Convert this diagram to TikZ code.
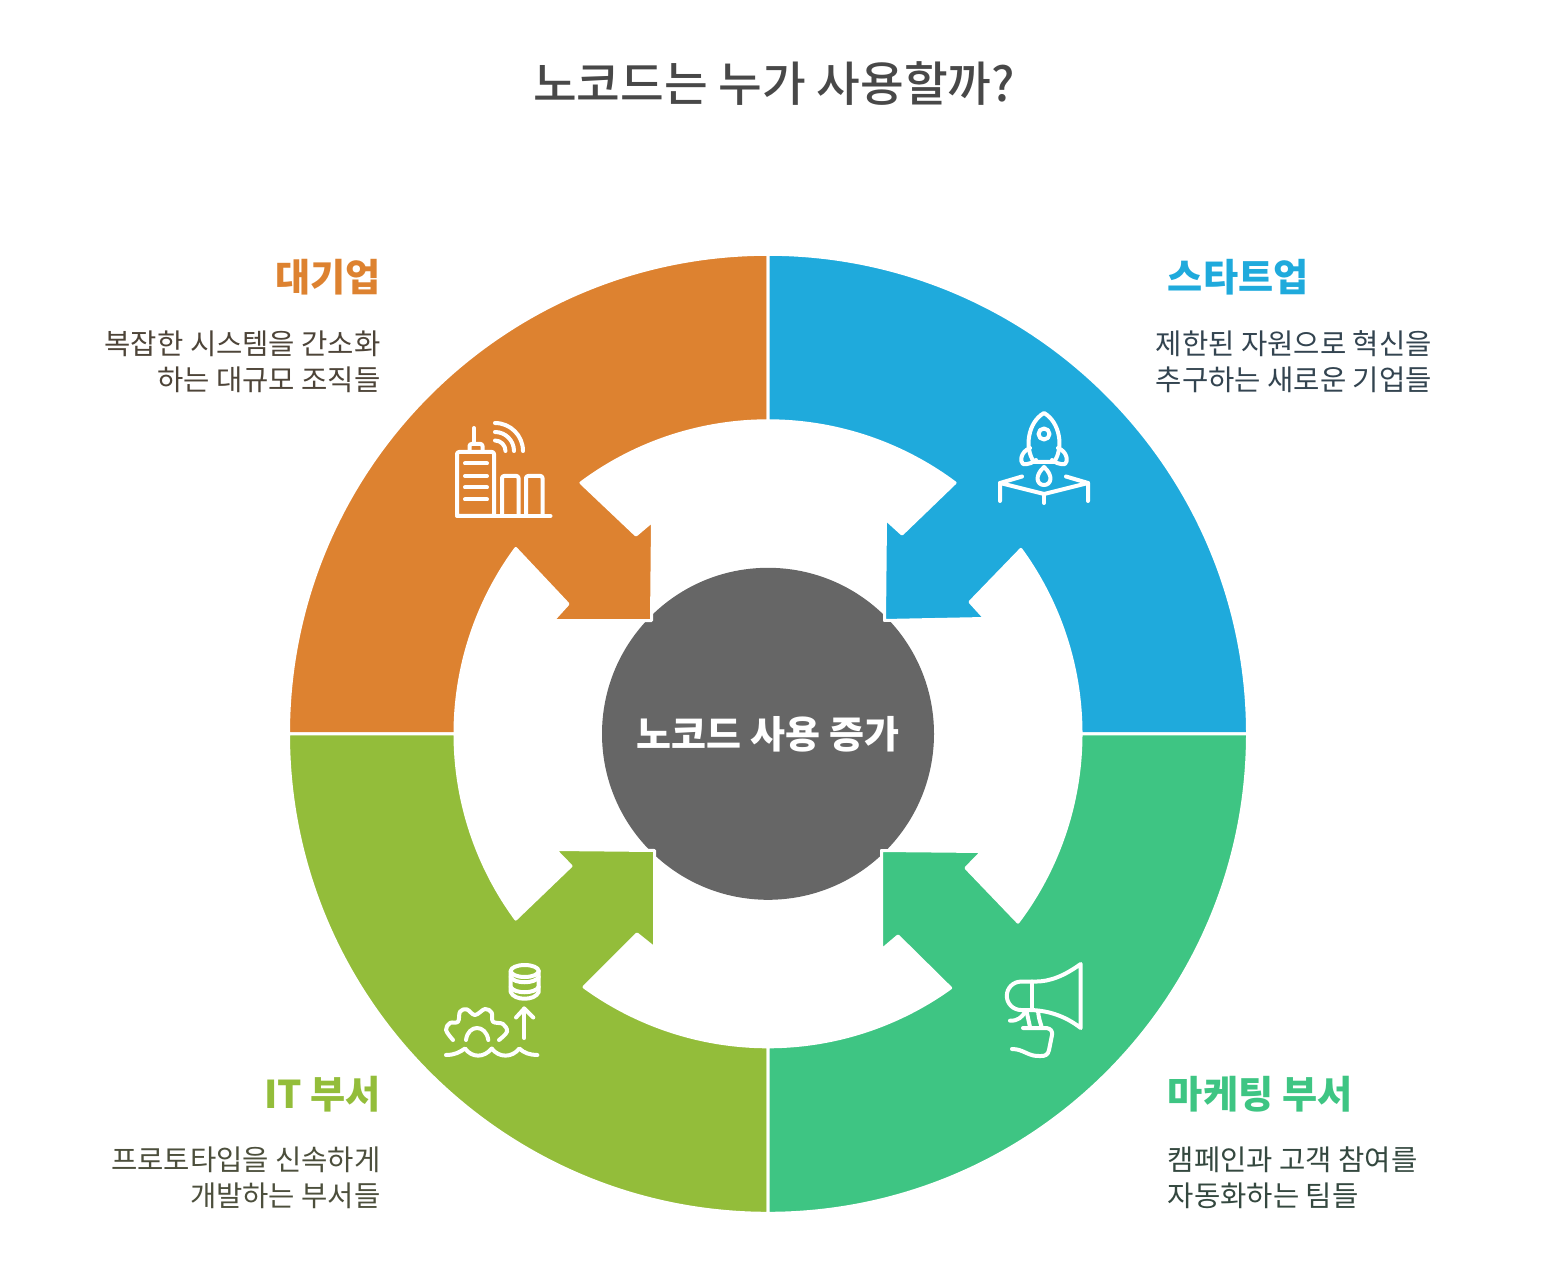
\documentclass[tikz,border=0pt]{standalone}
\usepackage{fontspec}
\setmainfont{Noto Sans CJK KR}
\newfontfamily\krmedium{Noto Sans CJK KR Medium}
\usetikzlibrary{calc}

\definecolor{orangeseg}{HTML}{DD8230}
\definecolor{blueseg}{HTML}{1FAADC}
\definecolor{limeseg}{HTML}{93BD3A}
\definecolor{greenseg}{HTML}{3EC583}
\definecolor{hubgray}{HTML}{666666}
\definecolor{titlegray}{HTML}{484848}
\definecolor{orangetxt}{HTML}{4D4438}
\definecolor{bluetxt}{HTML}{334450}
\definecolor{limetxt}{HTML}{4C4F3C}
\definecolor{greentxt}{HTML}{34483F}

\tikzset{
  segment/.style={draw=white, line width=1.5pt, line join=round},
  icon/.style={draw=white, line width=2pt, line cap=round, line join=round},
  heading/.style={font=\fontsize{19.1}{23}\selectfont\bfseries, inner sep=0pt},
  blurb/.style={font=\fontsize{14.3}{18}\selectfont, inner sep=0pt, align=#1},
}

\begin{document}
\begin{tikzpicture}[x=0.5pt, y=-0.5pt]
  \useasboundingbox (0,0) rectangle (1552,1288);
  \coordinate (hub) at (768,733.8);

  % Title
  \node [font=\fontsize{23.75}{28}\selectfont\krmedium, text=titlegray, inner sep=0pt] (title) at (774,84) {노코드는 누가 사용할까?};

  % Hub
  \node [circle, fill=hubgray, minimum size=166pt, inner sep=0pt, text=white,
         font=\fontsize{19}{23}\selectfont\bfseries] (hubnode) at (hub) {노코드 사용 증가};

  % Orange arrow
  \fill [orangeseg, segment] ($(hub)+(180:479.5)$) arc[start angle=180, end angle=270, radius=479.5]
    -- ($(hub)+(270:313)$) arc[start angle=270, end angle=233.3, radius=313]
    -- (636,535) -- (652.5,521) -- (651.5,620.5) -- (553,620.5) -- (568,604) -- ($(hub)+(216.3:313)$)
    arc[start angle=216.3, end angle=180, radius=313] -- cycle;

  % Blue arrow
  \fill [blueseg, segment] ($(hub)+(270:479.5)$) arc[start angle=270, end angle=360, radius=479.5]
    -- ($(hub)+(0:313)$) arc[start angle=360, end angle=323.9, radius=313]
    -- (970,602) -- (985,618.5) -- (884.5,620.5) -- (885.5,519) -- (902,534) -- ($(hub)+(306.7:313)$)
    arc[start angle=306.7, end angle=270, radius=313] -- cycle;

  % Lime arrow
  \fill [limeseg, segment] ($(hub)+(180:479.5)$) arc[start angle=180, end angle=90, radius=479.5]
    -- ($(hub)+(90:313)$) arc[start angle=90, end angle=126, radius=313]
    -- (637,934) -- (654.5,948) -- (654.5,850.5) -- (555,849.5) -- (571,866) -- ($(hub)+(143.7:313)$)
    arc[start angle=143.7, end angle=180, radius=313] -- cycle;

  % Green arrow
  \fill [greenseg, segment] ($(hub)+(0:479.5)$) arc[start angle=0, end angle=90, radius=479.5]
    -- ($(hub)+(90:313)$) arc[start angle=90, end angle=54.3, radius=313]
    -- (898,936) -- (881.5,950) -- (881.5,850.5) -- (982,851.5) -- (966,868) -- ($(hub)+(37:313)$)
    arc[start angle=37, end angle=0, radius=313] -- cycle;

  % Headings and text
  \node [heading, text=orangeseg, anchor=east] (orangehead) at (381.5,277) {대기업};
  \node [blurb=right, text=orangetxt, anchor=north east] (orangetext) at (381,330) {복잡한 시스템을 간소화\\하는 대규모 조직들};
  \node [heading, text=blueseg, anchor=west] (bluehead) at (1167.5,277) {스타트업};
  \node [blurb=left, text=bluetxt, anchor=north west] (bluetext) at (1155.5,330) {제한된 자원으로 혁신을\\추구하는 새로운 기업들};
  \node [heading, text=limeseg, anchor=east] (limehead) at (381.5,1094) {IT 부서};
  \node [blurb=right, text=limetxt, anchor=north east] (limetext) at (381,1146) {프로토타입을 신속하게\\개발하는 부서들};
  \node [heading, text=greenseg, anchor=west] (greenhead) at (1167.5,1094) {마케팅 부서};
  \node [blurb=left, text=greentxt, anchor=north west] (greentext) at (1167.5,1146) {캠페인과 고객 참여를\\자동화하는 팀들};

  % Building icon
  \draw [icon, rounded corners=1pt] (457,516) rectangle (494,452);
  \draw [icon, rounded corners=1pt] (469.5,452) -- (469.5,444) -- (482.5,444) -- (482.5,452);
  \draw [icon] (474,444) -- (474,428);
  \foreach \y in {463.5,476,487.5,499.5} \draw [icon] (465,\y) -- (487,\y);
  \draw [icon] (457,516) -- (550.5,516);
  \draw [icon, rounded corners=1pt] (502,516) -- (502,476) -- (518.5,476) -- (518.5,516);
  \draw [icon, rounded corners=1pt] (526,516) -- (526,476) -- (542.5,476) -- (542.5,516);
  \foreach \r in {10.5,19,28} \draw [icon] (495,451) ++(-90:\r) arc[start angle=-90, end angle=0, radius=\r];

  % Rocket icon
  \draw [icon] (1044,413) .. controls (1028,422) and (1024,448) .. (1034,462)
    -- (1054,462) .. controls (1064,448) and (1060,422) .. (1044,413) -- cycle;
  \draw [icon] (1044,434) circle (5.5);
  \draw [icon] (1030,448) .. controls (1020,452) and (1020,462) .. (1023,464) .. controls (1028,465) and (1034,462) .. (1036,460);
  \draw [icon] (1058,448) .. controls (1068,452) and (1068,462) .. (1065,464) .. controls (1060,465) and (1054,462) .. (1052,460);
  \draw [icon] (1044,467) .. controls (1034,476) and (1037,485) .. (1044,485) .. controls (1051,485) and (1054,476) .. (1044,467);
  \draw [icon] (1000,501) -- (1000,483) -- (1044,494) -- (1088,483) -- (1088,501);
  \draw [icon] (1000,483) -- (1022,476.5);
  \draw [icon] (1088,483) -- (1066,476.5);
  \draw [icon] (1044,494) -- (1044,503);

  % Database and gear icon
  \draw [icon] (524.7,971) ellipse (14 and 6);
  \draw [icon] (510.7,971) -- (510.7,992) .. controls (514,1001) and (535,1001) .. (538.7,992) -- (538.7,971);
  \draw [icon] (510.7,977) .. controls (514,984) and (535,984) .. (538.7,977);
  \draw [icon] (510.7,987) .. controls (514,994) and (535,994) .. (538.7,987);
  \draw [icon] (524.3,1038) -- (524.3,1008.5);
  \draw [icon] (516,1017.5) -- (524.3,1008.5) -- (533.3,1017.5);
  \draw [icon] plot [smooth, tension=.6] coordinates {(453,1040) (446,1030) (450,1023) (458,1021.7) (460,1011.7)
    (466.7,1009.3) (475,1015) (485,1009) (491.7,1012.7) (493,1021.7) (503,1024) (507,1031.7) (499,1040)};
  \draw [icon] (466,1040) .. controls (468,1024) and (486,1024) .. (488.3,1040);
  \draw [icon] (446,1055) .. controls (455,1055) and (460,1052) .. (465,1048.5)
    .. controls (472,1058) and (484,1058) .. (491.7,1048.5)
    .. controls (499,1058) and (512,1058) .. (519.3,1048.5)
    .. controls (524,1053) and (530,1055) .. (537.3,1055);

  % Megaphone icon
  \draw [icon] (1080.7,964) -- (1080.7,1028) .. controls (1064,1015) and (1046,1010) .. (1028,1010)
    -- (1021,1010) arc[start angle=90, end angle=270, radius=14.2]
    -- (1035,981.6) .. controls (1050,981.6) and (1064,976) .. (1080.7,964) -- cycle;
  \draw [icon] (1032,981.6) -- (1032,1010);
  \draw [icon] (1010,1020.7) .. controls (1018,1021) and (1022,1017) .. (1025,1012);
  \draw [icon] (1026.7,1012) -- (1030,1027);
  \draw [icon] (1038,1011) .. controls (1038.5,1017) and (1040,1022) .. (1041.7,1027);
  \draw [icon] (1023,1028) -- (1046.7,1028) .. controls (1051,1029) and (1052.5,1031) .. (1052,1035)
    -- (1049,1050) .. controls (1048,1055) and (1045,1056) .. (1041,1056)
    .. controls (1028,1057) and (1024,1049) .. (1012,1049);
\end{tikzpicture}
\end{document}
